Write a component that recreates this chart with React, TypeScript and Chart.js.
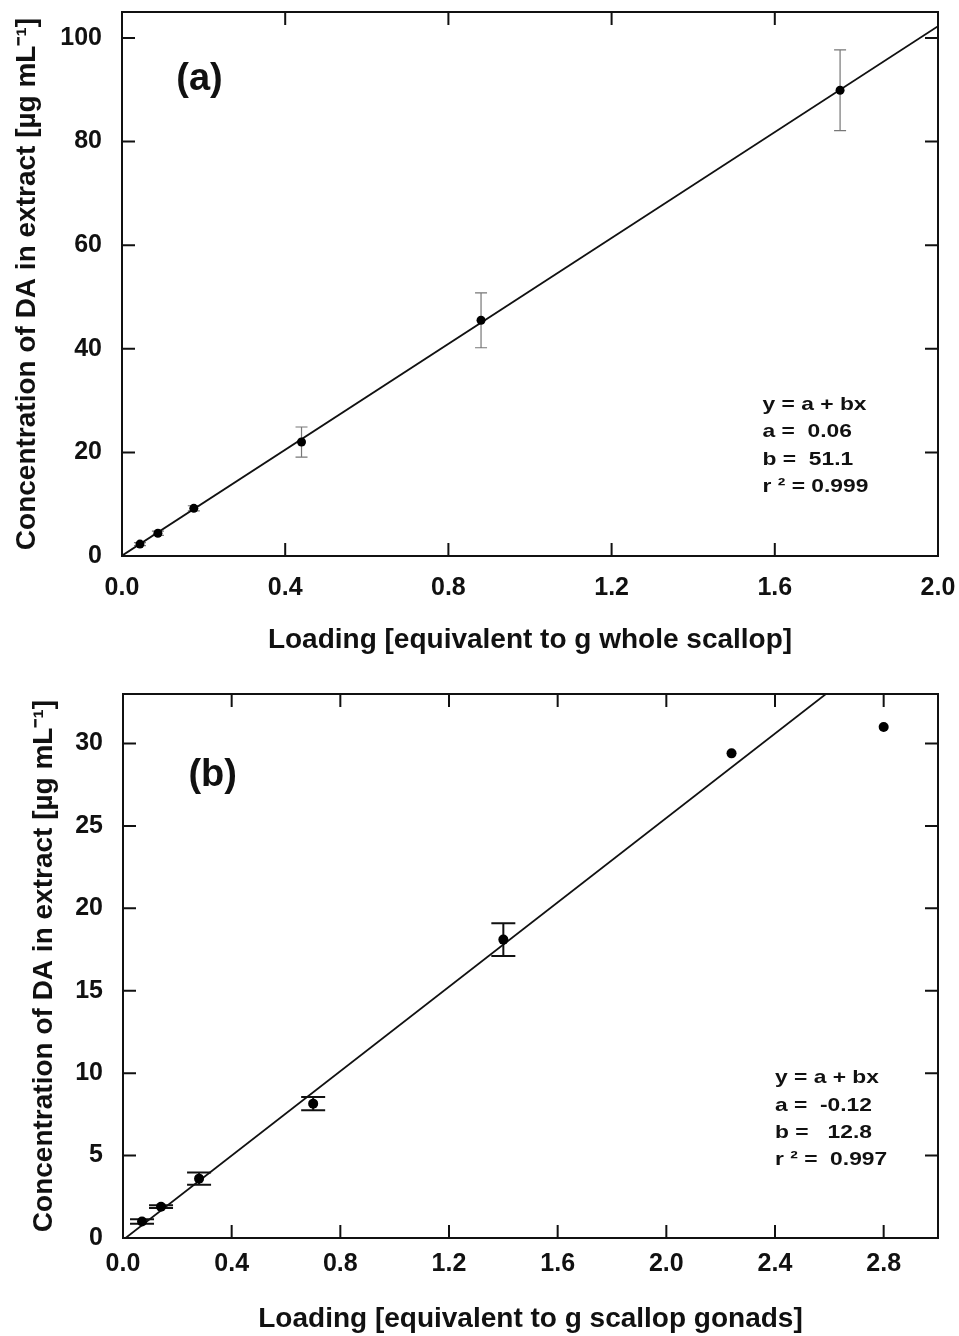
import React, { useEffect, useRef } from "react";
import { Chart, registerables } from "chart.js";

Chart.register(...registerables);

const FONT = "'Liberation Sans', Arial, Helvetica, sans-serif";

// ---------- Panel (a) data ----------
const loadingA = [0.044, 0.088, 0.176, 0.44, 0.88, 1.76];
const concA = [2.3, 4.4, 9.2, 22.0, 45.5, 89.9];
const errA = [0.3, 0.4, 0.5, 2.9, 5.3, 7.8];
const fitA = { a: 0.06, b: 51.1 };
const fitRangeA = [0, 2.0];
const xTicksA = [0, 0.4, 0.8, 1.2, 1.6, 2.0];
const yTicksA = [0, 20, 40, 60, 80, 100];
const eqA = ["y = a + bx", "a =  0.06", "b =  51.1", "r \u00B2 = 0.999"];

// ---------- Panel (b) data ----------
const loadingB = [0.07, 0.14, 0.28, 0.7, 1.4, 2.24, 2.8];
const concB = [1.0, 1.9, 3.6, 8.15, 18.1, 29.4, 31.0];
const errB = [0.13, 0.08, 0.37, 0.4, 1.0, 0, 0];
const fitB = { a: -0.12, b: 12.8 };
const fitRangeB = [0, 2.6];
const xTicksB = [0, 0.4, 0.8, 1.2, 1.6, 2.0, 2.4, 2.8];
const yTicksB = [0, 5, 10, 15, 20, 25, 30];
const eqB = ["y = a + bx", "a =  -0.12", "b =   12.8", "r \u00B2 =  0.997"];

const Y_TITLE = "Concentration of DA in extract [\u00B5g mL\u207B\u00B9]";

type Spec = {
  height: number;
  padding: { left: number; top: number; right: number; bottom: number };
  yAxisWidth: number;
  xAxisHeight: number;
  xMin: number; xMax: number; yMin: number; yMax: number;
  xTicks: number[]; yTicks: number[];
  xTitle: string;
  xTickPad: number; yTickPad: number; xTitlePad: number; yTitlePad: number;
  loading: number[]; conc: number[]; err: number[];
  fit: { a: number; b: number }; fitRange: number[];
  errCap: number; errColor: string; errWidth: number; pointRadius: number;
  panelLabel: string; panelLabelAt: [number, number];
  eq: string[]; eqAt: [number, number];
};

const specA: Spec = {
  height: 670,
  padding: { left: 0, top: 12, right: 21, bottom: 0 },
  yAxisWidth: 122,
  xAxisHeight: 114,
  xMin: 0, xMax: 2.0, yMin: 0, yMax: 105,
  xTicks: xTicksA, yTicks: yTicksA,
  xTitle: "Loading [equivalent to g whole scallop]",
  xTickPad: 9, yTickPad: 12, xTitlePad: 13, yTitlePad: 10,
  loading: loadingA, conc: concA, err: errA,
  fit: fitA, fitRange: fitRangeA,
  errCap: 12, errColor: "#777", errWidth: 1.2, pointRadius: 4.5,
  panelLabel: "(a)", panelLabelAt: [0.19, 92],
  eq: eqA, eqAt: [1.57, 29.2],
};

const specB: Spec = {
  height: 666,
  padding: { left: 0, top: 24, right: 21, bottom: 0 },
  yAxisWidth: 123,
  xAxisHeight: 98,
  xMin: 0, xMax: 3.0, yMin: 0, yMax: 33,
  xTicks: xTicksB, yTicks: yTicksB,
  xTitle: "Loading [equivalent to g scallop gonads]",
  xTickPad: 3, yTickPad: 12, xTitlePad: 0, yTitlePad: 27,
  loading: loadingB, conc: concB, err: errB,
  fit: fitB, fitRange: fitRangeB,
  errCap: 24, errColor: "#111", errWidth: 2, pointRadius: 5,
  panelLabel: "(b)", panelLabelAt: [0.33, 28.06],
  eq: eqB, eqAt: [2.4, 9.7],
};

function makePlugin(spec: Spec) {
  return {
    id: "frameAndErrors",
    beforeDatasetsDraw(chart: any) {
      const { ctx } = chart;
      const xs = chart.scales.x;
      const ys = chart.scales.y;
      ctx.save();
      ctx.strokeStyle = spec.errColor;
      ctx.lineWidth = spec.errWidth;
      spec.loading.forEach((x, i) => {
        const e = spec.err[i];
        if (!e) return;
        const px = xs.getPixelForValue(x);
        const t = ys.getPixelForValue(spec.conc[i] + e);
        const b = ys.getPixelForValue(spec.conc[i] - e);
        const h = spec.errCap / 2;
        ctx.beginPath();
        ctx.moveTo(px, t);
        ctx.lineTo(px, b);
        ctx.moveTo(px - h, t);
        ctx.lineTo(px + h, t);
        ctx.moveTo(px - h, b);
        ctx.lineTo(px + h, b);
        ctx.stroke();
      });
      ctx.restore();
    },
    afterDraw(chart: any) {
      const { ctx } = chart;
      const xs = chart.scales.x;
      const ys = chart.scales.y;
      const { left, right, top, bottom } = chart.chartArea;
      ctx.save();
      ctx.strokeStyle = "#111";
      ctx.lineWidth = 2;
      ctx.strokeRect(left, top, right - left, bottom - top);
      const tl = 13;
      ctx.beginPath();
      xs.ticks.forEach((t: any) => {
        const p = xs.getPixelForValue(t.value);
        if (p <= left + 1 || p >= right - 1) return;
        ctx.moveTo(p, bottom);
        ctx.lineTo(p, bottom - tl);
        ctx.moveTo(p, top);
        ctx.lineTo(p, top + tl);
      });
      ys.ticks.forEach((t: any) => {
        const p = ys.getPixelForValue(t.value);
        if (p >= bottom - 1 || p <= top + 1) return;
        ctx.moveTo(left, p);
        ctx.lineTo(left + tl, p);
        ctx.moveTo(right, p);
        ctx.lineTo(right - tl, p);
      });
      ctx.stroke();

      ctx.fillStyle = "#111";
      // panel label
      ctx.font = `bold 38px ${FONT}`;
      ctx.textAlign = "center";
      ctx.textBaseline = "middle";
      ctx.fillText(
        spec.panelLabel,
        xs.getPixelForValue(spec.panelLabelAt[0]),
        ys.getPixelForValue(spec.panelLabelAt[1])
      );
      // equation
      ctx.font = `bold 19px ${FONT}`;
      ctx.textAlign = "left";
      const ex = xs.getPixelForValue(spec.eqAt[0]);
      const ey = ys.getPixelForValue(spec.eqAt[1]);
      spec.eq.forEach((line, i) => {
        ctx.save();
        ctx.translate(ex, ey + i * 27.3);
        ctx.scale(1.2, 1);
        ctx.fillText(line, 0, 0);
        ctx.restore();
      });
      ctx.restore();
    },
  };
}

function zeroPad(s: any) {
  s.paddingTop = 0;
  s.paddingBottom = 0;
  s.paddingLeft = 0;
  s.paddingRight = 0;
}

function Panel({ spec }: { spec: Spec }) {
  const ref = useRef<HTMLCanvasElement | null>(null);
  useEffect(() => {
    if (!ref.current) return;
    const tickFont = { family: FONT, size: 25, weight: "bold" as const };
    const titleFont = { family: FONT, size: 28, weight: "bold" as const };
    const chart = new Chart(ref.current, {
      type: "scatter",
      data: {
        datasets: [
          {
            type: "line",
            data: spec.fitRange.map((x) => ({ x, y: spec.fit.a + spec.fit.b * x })),
            borderColor: "#111",
            borderWidth: 1.8,
            pointRadius: 0,
            fill: false,
            tension: 0,
            order: 2,
          } as any,
          {
            type: "scatter",
            data: spec.loading.map((x, i) => ({ x, y: spec.conc[i] })),
            pointRadius: spec.pointRadius,
            pointBackgroundColor: "#000",
            pointBorderWidth: 0,
            order: 1,
          } as any,
        ],
      },
      options: {
        responsive: false,
        animation: false,
        devicePixelRatio: 1,
        events: [],
        layout: { padding: spec.padding },
        plugins: { legend: { display: false }, tooltip: { enabled: false } },
        scales: {
          x: {
            type: "linear",
            min: spec.xMin,
            max: spec.xMax,
            grid: { display: false },
            border: { display: false },
            afterBuildTicks: (s: any) => {
              s.ticks = spec.xTicks.map((v) => ({ value: v }));
            },
            afterFit: (s: any) => {
              s.height = spec.xAxisHeight;
              zeroPad(s);
            },
            ticks: {
              padding: spec.xTickPad,
              color: "#111",
              font: tickFont,
              maxRotation: 0,
              autoSkip: false,
              callback: (v: any) => Number(v).toFixed(1),
            },
            title: {
              display: true,
              text: spec.xTitle,
              color: "#111",
              font: titleFont,
              padding: { top: 0, bottom: spec.xTitlePad },
            },
          },
          y: {
            type: "linear",
            min: spec.yMin,
            max: spec.yMax,
            grid: { display: false },
            border: { display: false },
            afterBuildTicks: (s: any) => {
              s.ticks = spec.yTicks.map((v) => ({ value: v }));
            },
            afterFit: (s: any) => {
              s.width = spec.yAxisWidth;
              zeroPad(s);
            },
            ticks: {
              padding: spec.yTickPad,
              color: "#111",
              font: tickFont,
              autoSkip: false,
              callback: (v: any) => String(v),
            },
            title: {
              display: true,
              text: Y_TITLE,
              color: "#111",
              font: titleFont,
              padding: { top: spec.yTitlePad, bottom: 0 },
            },
          },
        },
      } as any,
      plugins: [makePlugin(spec)],
    });
    return () => chart.destroy();
  }, [spec]);
  return (
    <canvas
      ref={ref}
      width={959}
      height={spec.height}
      style={{ display: "block", width: 959, height: spec.height }}
    />
  );
}

export default function App() {
  return (
    <div
      style={{
        position: "absolute",
        left: 0,
        top: 0,
        width: 959,
        height: 1336,
        background: "#fff",
        overflow: "hidden",
      }}
    >
      <Panel spec={specA} />
      <Panel spec={specB} />
    </div>
  );
}
